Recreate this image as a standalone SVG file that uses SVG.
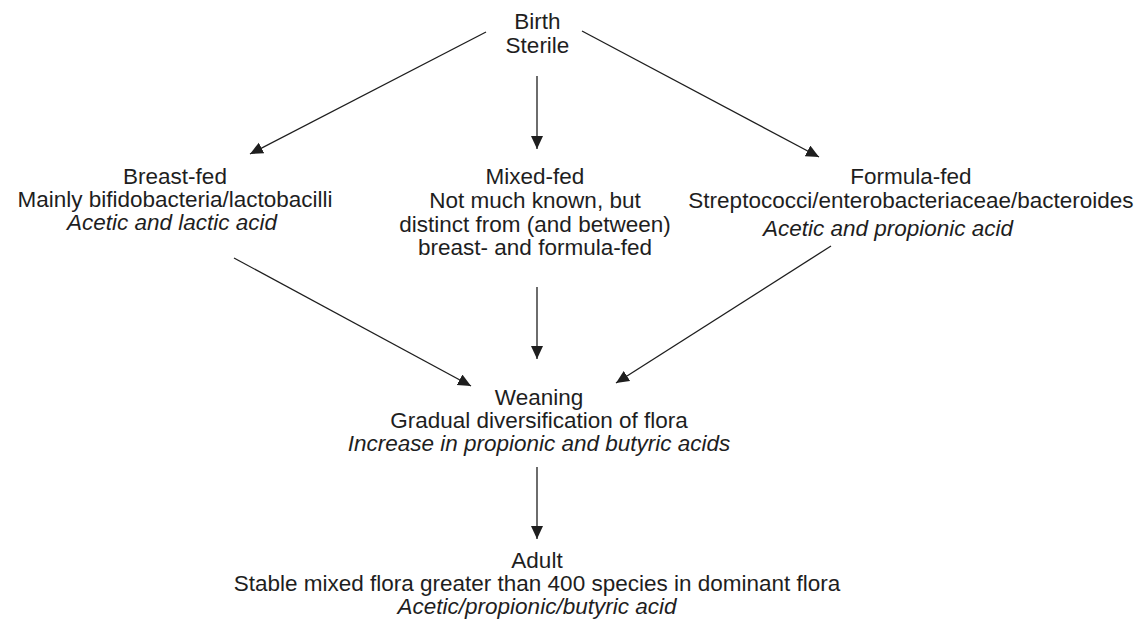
<svg xmlns="http://www.w3.org/2000/svg" width="1136" height="619" viewBox="0 0 1136 619">
<style>
text{font-family:"Liberation Sans",Arial,Helvetica,sans-serif;font-size:22.5px;fill:#1e1e1e;text-anchor:middle}
.it{font-style:italic}
.c{stroke:#1e1e1e;stroke-width:1.3;fill:none;marker-end:url(#ah)}
</style>
<defs>
<marker id="ah" markerUnits="userSpaceOnUse" markerWidth="14" markerHeight="13" refX="13" refY="6" orient="auto">
<path d="M0,0 L13,6 L0,12 z" fill="#1e1e1e"/>
</marker>
</defs>
<rect width="1136" height="619" fill="#fff"/>
<g id="connectors">
<line class="c" x1="486" y1="32" x2="250" y2="154"/>
<line class="c" x1="537" y1="76" x2="537" y2="149"/>
<line class="c" x1="582" y1="31" x2="819" y2="157"/>
<line class="c" x1="234" y1="258" x2="471" y2="386"/>
<line class="c" x1="537" y1="287" x2="537" y2="359"/>
<line class="c" x1="831" y1="246" x2="616" y2="383"/>
<line class="c" x1="537" y1="467" x2="537" y2="539"/>
</g>
<g id="birth">
<text x="537.5" y="29">Birth</text>
<text x="537.5" y="52.5">Sterile</text>
</g>
<g id="breast-fed">
<text x="175" y="184">Breast-fed</text>
<text x="175" y="207">Mainly bifidobacteria/lactobacilli</text>
<text class="it" x="172" y="230">Acetic and lactic acid</text>
</g>
<g id="mixed-fed">
<text x="535" y="184">Mixed-fed</text>
<text x="535" y="208">Not much known, but</text>
<text x="535" y="232">distinct from (and between)</text>
<text x="535" y="255">breast- and formula-fed</text>
</g>
<g id="formula-fed">
<text x="911" y="184">Formula-fed</text>
<text x="911" y="208">Streptococci/enterobacteriaceae/bacteroides</text>
<text class="it" x="888" y="236">Acetic and propionic acid</text>
</g>
<g id="weaning">
<text x="539" y="405">Weaning</text>
<text x="539" y="428">Gradual diversification of flora</text>
<text class="it" x="539" y="451">Increase in propionic and butyric acids</text>
</g>
<g id="adult">
<text x="537" y="568">Adult</text>
<text x="537" y="591">Stable mixed flora greater than 400 species in dominant flora</text>
<text class="it" x="537" y="614">Acetic/propionic/butyric acid</text>
</g>
</svg>
